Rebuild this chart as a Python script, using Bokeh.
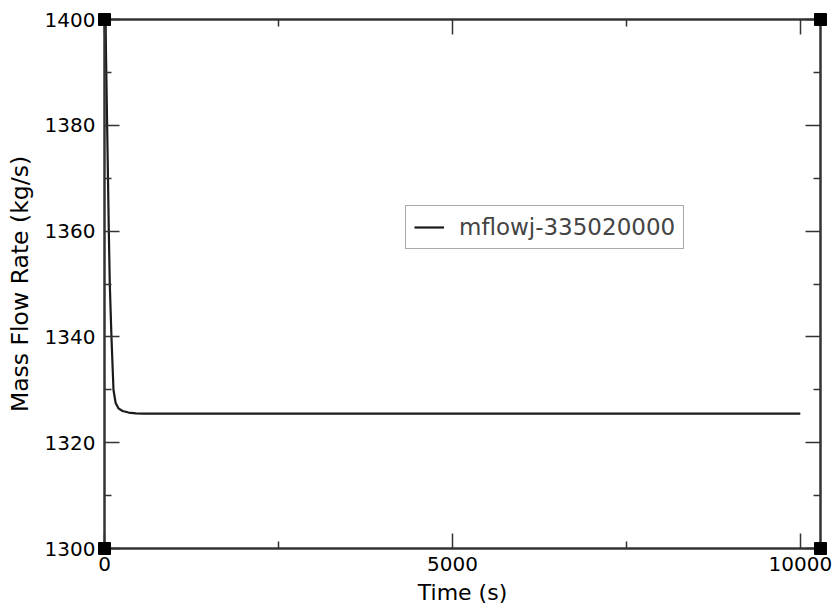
from bokeh.plotting import figure
from bokeh.models import LinearAxis, Range1d, ColumnDataSource, Legend, LegendItem, FixedTicker
from bokeh.embed import file_html
from bokeh.resources import INLINE

# data
time_s = [0, 20, 39, 50, 62, 76, 100, 129, 160, 200, 260, 345, 450, 560, 10000]
mflow = [1420, 1395, 1379, 1370, 1360, 1350, 1340, 1330, 1327.5, 1326.5, 1326.0, 1325.7, 1325.55, 1325.5, 1325.5]
series_label = "mflowj-335020000"
x_label = "Time (s)"
y_label = "Mass Flow Rate (kg/s)"
x_ticks = [0, 5000, 10000]
x_minor = [2500, 7500]
y_ticks = [1300, 1320, 1340, 1360, 1380, 1400]
y_minor = [1310, 1330, 1350, 1370, 1390]

X0, X1 = 0, 10290
Y0, Y1 = 1300, 1400

FONT = "DejaVu Sans"
AX = "#333333"

p = figure(width=836, height=612, output_backend="svg", toolbar_location=None,
           x_range=Range1d(X0, X1), y_range=Range1d(Y0, Y1),
           x_axis_location=None, y_axis_location=None,
           min_border_left=104, min_border_right=16, min_border_top=19, min_border_bottom=64)
p.xgrid.visible = False
p.ygrid.visible = False
p.outline_line_color = None
p.background_fill_color = "white"
p.border_fill_color = "white"


def style(ax, labels=True):
    ax.axis_line_color = AX
    ax.axis_line_width = 2.5
    ax.major_tick_in = 15
    ax.major_tick_out = 0
    ax.minor_tick_in = 7
    ax.minor_tick_out = 0
    ax.major_tick_line_color = AX
    ax.minor_tick_line_color = AX
    ax.major_tick_line_width = 1.5
    ax.minor_tick_line_width = 1.5
    ax.major_label_text_font = FONT
    ax.major_label_text_font_size = "20px"
    ax.major_label_text_color = "black" if labels else None
    ax.axis_label_text_font = FONT
    ax.axis_label_text_font_style = "normal"
    ax.axis_label_text_color = "black"


xt = FixedTicker(ticks=x_ticks, minor_ticks=x_minor)
yt = FixedTicker(ticks=y_ticks, minor_ticks=y_minor)

bottom = LinearAxis(ticker=xt, axis_label=x_label)
left = LinearAxis(ticker=yt, axis_label=y_label)
top = LinearAxis(ticker=xt)
right = LinearAxis(ticker=yt)
for a in (bottom, left):
    style(a)
for a in (top, right):
    style(a, labels=False)
    a.major_label_text_font_size = "0px"
bottom.axis_label_text_font_size = "22px"
left.axis_label_text_font_size = "23.5px"
bottom.major_label_standoff = 8
left.major_label_standoff = 9
bottom.axis_label_standoff = 6
left.axis_label_standoff = 8
p.add_layout(bottom, "below")
p.add_layout(left, "left")
p.add_layout(top, "above")
p.add_layout(right, "right")

src = ColumnDataSource(dict(x=time_s, y=mflow))
r = p.line("x", "y", source=src, line_color="#1a1a1a", line_width=2.2)

corners = ColumnDataSource(dict(x=[X0, X1, X0, X1], y=[Y0, Y0, Y1, Y1]))
p.scatter("x", "y", source=corners, marker="square", size=12, color="black", level="overlay")

legend = Legend(items=[LegendItem(label=series_label, renderers=[r])],
                location=(301, 299))
legend.label_text_font = FONT
legend.label_text_font_size = "23px"
legend.glyph_width = 30
legend.label_standoff = 15
legend.padding = 8
legend.margin = 0
legend.border_line_color = "#555555"
legend.border_line_width = 1.2
legend.background_fill_alpha = 1
p.add_layout(legend, "center")

open("out.html", "w").write(file_html(p, INLINE))
